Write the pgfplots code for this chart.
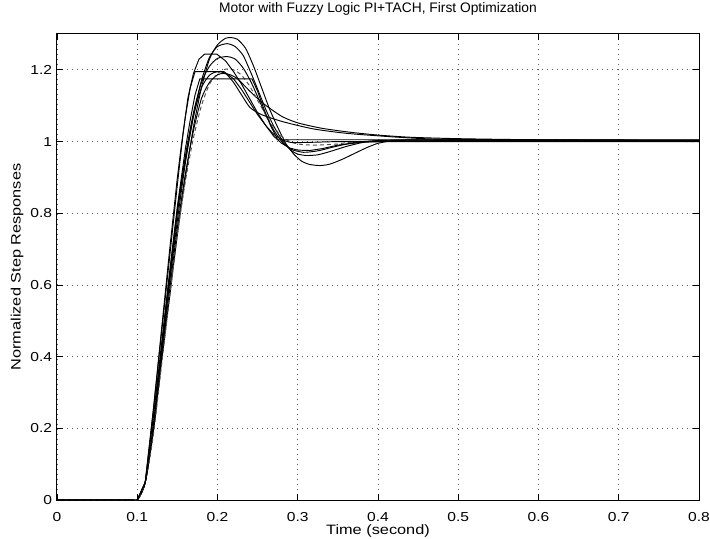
\documentclass[border=0pt]{standalone}
\usepackage{fontspec}
\setmainfont{Liberation Sans}[FakeStretch=1.2]
\newfontfamily\titlefont{Liberation Sans}
\usepackage{pgfplots}
\pgfplotsset{compat=1.18}
\begin{document}
\begin{tikzpicture}
\begin{axis}[name=ax,
  scale only axis, width=642pt, height=466pt,
  xmin=0, xmax=0.8, ymin=0, ymax=1.3,
  xtick={0,0.1,0.2,0.3,0.4,0.5,0.6,0.7,0.8},
  xticklabels={0,0.1,0.2,0.3,0.4,0.5,0.6,0.7,0.8},
  ytick={0,0.2,0.4,0.6,0.8,1,1.2},
  yticklabels={0,0.2,0.4,0.6,0.8,1,1.2},
  xtick pos=both, ytick pos=both,
  xticklabel pos=lower, yticklabel pos=left,
  tick align=inside, major tick length=6pt,
  tick style={black, line width=0.7pt},
  axis line style={black, line width=1pt},
  grid=major,
  major grid style={dash pattern=on 1pt off 4pt, gray!70!black, line width=0.7pt},
  /pgf/number format/assume math mode=true,
  xticklabel style={anchor=base, yshift=-21pt, inner sep=0pt, font=\fontsize{13}{13}\selectfont},
  yticklabel style={anchor=east, xshift=-4.7pt, inner sep=0pt, font=\fontsize{13}{13}\selectfont},
  title={Motor with Fuzzy Logic PI+TACH, First Optimization},
  title style={at={(axis description cs:0.5,1.0322)}, anchor=base, inner sep=0pt, font=\titlefont\fontsize{13.8}{15}\selectfont},
  xlabel={Time (second)},
  xlabel style={at={(axis description cs:0.5,-0.073)}, anchor=base, inner sep=0pt, font=\fontsize{13.6}{14}\selectfont},
  ylabel={Normalized Step Responses},
  ylabel style={at={(axis description cs:-0.0565,0.5)}, anchor=base, inner sep=0pt, font=\fontsize{13.6}{14}\selectfont},
  cycle list={{black,mark=none}},
  no markers,
  every axis plot/.append style={line width=0.95pt},
]
% curve 1: highest overshoot
\addplot[black, smooth, tension=0.4] coordinates {(0,0)(0.09,0)(0.1,0)(0.11,0.05)(0.12,0.19)(0.13,0.38)(0.14,0.56)(0.15,0.74)(0.16,0.90)(0.17,1.04)(0.18,1.15)(0.19,1.23)(0.20,1.27)(0.21,1.288)(0.217,1.29)(0.225,1.285)(0.235,1.26)(0.245,1.21)(0.255,1.15)(0.265,1.09)(0.275,1.04)(0.285,0.995)(0.295,0.965)(0.305,0.945)(0.315,0.936)(0.328,0.933)(0.34,0.937)(0.355,0.95)(0.37,0.966)(0.385,0.982)(0.40,0.995)(0.42,1.003)(0.45,1.005)(0.5,1.004)(0.6,1.002)(0.8,1.002)};
% curve 2
\addplot[black, smooth, tension=0.4] coordinates {(0,0)(0.09,0)(0.1,0)(0.11,0.05)(0.12,0.20)(0.13,0.40)(0.14,0.60)(0.15,0.78)(0.16,0.94)(0.17,1.07)(0.18,1.17)(0.19,1.235)(0.20,1.265)(0.212,1.273)(0.222,1.265)(0.232,1.24)(0.242,1.19)(0.252,1.135)(0.262,1.08)(0.272,1.035)(0.282,1.0)(0.292,0.975)(0.30,0.965)(0.311,0.961)(0.325,0.963)(0.34,0.972)(0.36,0.986)(0.38,0.997)(0.40,1.003)(0.45,1.004)(0.5,1.003)(0.8,1.002)};
% curve 3
\addplot[black, smooth, tension=0.4] coordinates {(0,0)(0.09,0)(0.1,0)(0.11,0.05)(0.12,0.21)(0.13,0.42)(0.14,0.62)(0.15,0.81)(0.16,0.96)(0.17,1.08)(0.18,1.165)(0.19,1.21)(0.20,1.232)(0.212,1.237)(0.222,1.23)(0.232,1.205)(0.242,1.165)(0.252,1.115)(0.262,1.065)(0.272,1.025)(0.282,0.995)(0.292,0.978)(0.307,0.970)(0.325,0.974)(0.345,0.985)(0.37,0.997)(0.40,1.002)(0.5,1.002)(0.8,1.001)};
% curve 4: slow tail (upper)
\addplot[black, smooth, tension=0.4] coordinates {(0,0)(0.09,0)(0.1,0)(0.11,0.05)(0.12,0.19)(0.13,0.39)(0.14,0.58)(0.15,0.76)(0.16,0.91)(0.17,1.03)(0.18,1.12)(0.19,1.165)(0.20,1.186)(0.207,1.19)(0.215,1.187)(0.225,1.175)(0.2405,1.14)(0.255,1.11)(0.27,1.085)(0.282,1.068)(0.30,1.052)(0.33,1.037)(0.365,1.026)(0.40,1.018)(0.44,1.012)(0.5,1.008)(0.6,1.005)(0.8,1.004)};
% curve 5: slow tail (lower)
\addplot[black, smooth, tension=0.4] coordinates {(0,0)(0.09,0)(0.1,0)(0.11,0.05)(0.12,0.20)(0.13,0.41)(0.14,0.61)(0.15,0.80)(0.16,0.95)(0.17,1.07)(0.18,1.15)(0.19,1.185)(0.20,1.195)(0.21,1.19)(0.22,1.165)(0.23,1.13)(0.2405,1.095)(0.255,1.075)(0.282,1.055)(0.32,1.035)(0.365,1.022)(0.44,1.01)(0.5,1.006)(0.8,1.003)};
% curve 6: dashed
\addplot[smooth, tension=0.4, gray!60!black, dash pattern=on 4pt off 3pt] coordinates {(0,0)(0.09,0)(0.1,0)(0.11,0.05)(0.12,0.18)(0.13,0.37)(0.14,0.56)(0.15,0.74)(0.16,0.89)(0.17,1.01)(0.18,1.10)(0.19,1.16)(0.20,1.19)(0.21,1.202)(0.22,1.2)(0.23,1.185)(0.24,1.155)(0.25,1.115)(0.26,1.075)(0.27,1.04)(0.28,1.015)(0.29,1.0)(0.30,0.993)(0.32,0.99)(0.35,0.993)(0.40,1.0)(0.8,1.0)};
% curve 7: flat top 1.244
\addplot[black] coordinates {(0,0)(0.1,0)(0.11,0.05)(0.115,0.15)(0.12,0.25)(0.13,0.46)(0.14,0.67)(0.15,0.88)(0.157,1.02)(0.163,1.12)(0.17,1.19)(0.177,1.23)(0.184,1.244)(0.199,1.244)(0.21,1.225)(0.22,1.195)(0.23,1.16)(0.24,1.12)(0.25,1.08)(0.26,1.045)(0.27,1.015)(0.28,0.995)(0.29,0.982)(0.30,0.976)(0.315,0.975)(0.33,0.98)(0.35,0.99)(0.38,0.998)(0.42,1.001)(0.8,1.001)};
% curve 8: flat top 1.195
\addplot[black] coordinates {(0,0)(0.1,0)(0.11,0.05)(0.115,0.15)(0.12,0.25)(0.13,0.47)(0.14,0.69)(0.15,0.90)(0.155,0.99)(0.16,1.07)(0.166,1.15)(0.172,1.195)(0.208,1.195)(0.22,1.175)(0.23,1.145)(0.24,1.11)(0.25,1.075)(0.26,1.045)(0.27,1.02)(0.28,1.005)(0.29,0.998)(0.30,0.997)(0.32,0.998)(0.35,1.0)(0.8,1.0)};
% curve 9: flat top 1.175
\addplot[black] coordinates {(0,0)(0.1,0)(0.11,0.05)(0.115,0.14)(0.12,0.23)(0.13,0.43)(0.14,0.63)(0.15,0.82)(0.16,0.98)(0.166,1.06)(0.172,1.13)(0.178,1.175)(0.243,1.175)(0.25,1.14)(0.258,1.09)(0.266,1.045)(0.275,1.005)(0.8,1.005)};
\end{axis}
\pgfresetboundingbox
\path ([xshift=-57pt,yshift=-38pt]ax.south west) rectangle ([xshift=11pt,yshift=34pt]ax.north east);
\end{tikzpicture}
\end{document}
